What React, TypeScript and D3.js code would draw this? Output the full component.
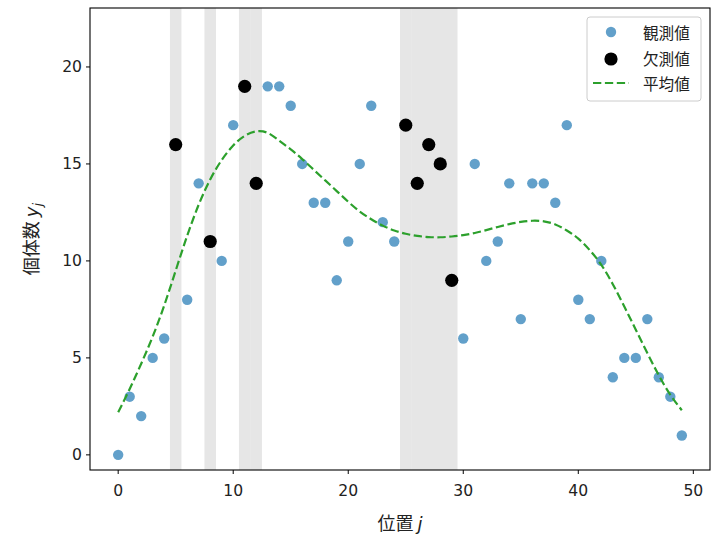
import React from "react";
import * as d3 from "d3";

// 位置 j = 0..49
const positions = d3.range(50);

// 観測された個体数 (欠測位置は null)
const observed: (number | null)[] = [
  0, 3, 2, 5, 6, null, 8, 14, null, 10,
  17, null, null, 19, 19, 18, 15, 13, 13, 9,
  11, 15, 18, 12, 11, null, null, null, null, null,
  6, 15, 10, 11, 14, 7, 14, 14, 13, 17,
  8, 7, 10, 4, 5, 5, 7, 4, 3, 1,
];

// 欠測位置の真値
const missingIdx = [5, 8, 11, 12, 25, 26, 27, 28, 29];
const missingVals = [16, 11, 19, 14, 17, 14, 16, 15, 9];

// 平均値
const meanVals = [
  2.2, 3.4, 4.7, 6.1, 7.7, 9.5, 11.3, 12.9, 14.2, 15.2,
  15.95, 16.45, 16.68, 16.6, 16.2, 15.75, 15.25, 14.7, 14.15, 13.6,
  13.05, 12.55, 12.15, 11.82, 11.57, 11.4, 11.29, 11.23, 11.22, 11.26,
  11.33, 11.44, 11.59, 11.75, 11.9, 12.01, 12.07, 12.04, 11.88, 11.57,
  11.15, 10.55, 9.8, 8.8, 7.65, 6.45, 5.25, 4.1, 3.1, 2.3,
];

const xTicks = [0, 10, 20, 30, 40, 50];
const yTicks = [0, 5, 10, 15, 20];

const W = 720;
const H = 539;
const left = 90;
const right = 710;
const top = 8;
const bottom = 470;

const tickFont = "'DejaVu Sans', sans-serif";
const jpFont = "'Noto Sans CJK JP', 'DejaVu Sans', sans-serif";

export default function App() {
  const x = d3.scaleLinear().domain([-2.45, 51.45]).range([left, right]);
  const y = d3.scaleLinear().domain([-0.78, 23.04]).range([bottom, top]);

  const meanLine = d3
    .line<number>()
    .x((_, i) => x(positions[i]))
    .y((d) => y(d))
    .curve(d3.curveNatural)(meanVals);

  const obsPoints = positions
    .map((p, i) => ({ p, v: observed[i] }))
    .filter((d) => d.v !== null) as { p: number; v: number }[];

  return (
    <svg
      width={W}
      height={H}
      style={{ position: "absolute", left: 0, top: 0, background: "#fff" }}
    >
      <rect x={0} y={0} width={W} height={H} fill="#fff" />

      {/* 欠測区間 */}
      {missingIdx.map((m) => (
        <rect
          key={"s" + m}
          x={x(m - 0.5)}
          y={top}
          width={x(m + 0.5) - x(m - 0.5)}
          height={bottom - top}
          fill="#808080"
          fillOpacity={0.2}
        />
      ))}

      {obsPoints.map((d) => (
        <circle
          key={"o" + d.p}
          cx={x(d.p)}
          cy={y(d.v)}
          r={5.2}
          fill="#1f77b4"
          fillOpacity={0.7}
        />
      ))}

      {missingIdx.map((m, i) => (
        <circle key={"m" + m} cx={x(m)} cy={y(missingVals[i])} r={6.6} fill="#000" />
      ))}

      <path
        d={meanLine ?? ""}
        fill="none"
        stroke="#2ca02c"
        strokeWidth={2.2}
        strokeDasharray="8.3,3.6"
      />

      {/* 軸 */}
      <rect
        x={left}
        y={top}
        width={right - left}
        height={bottom - top}
        fill="none"
        stroke="#000"
        strokeWidth={1.1}
      />

      {xTicks.map((t) => (
        <g key={"xt" + t} transform={`translate(${x(t)},${bottom})`}>
          <line y2={4} stroke="#000" strokeWidth={1} />
          <text
            y={21}
            textAnchor="middle"
            dominantBaseline="central"
            fontFamily={tickFont}
            fontSize={15.6}
            fill="#222"
          >
            {t}
          </text>
        </g>
      ))}

      {yTicks.map((t) => (
        <g key={"yt" + t} transform={`translate(${left},${y(t)})`}>
          <line x2={-4} stroke="#000" strokeWidth={1} />
          <text
            x={-8}
            textAnchor="end"
            dominantBaseline="central"
            fontFamily={tickFont}
            fontSize={15.6}
            fill="#222"
          >
            {t}
          </text>
        </g>
      ))}

      <text
        x={(left + right) / 2}
        y={530}
        textAnchor="middle"
        fontFamily={jpFont}
        fontSize={18}
        fill="#222"
      >
        位置 <tspan fontFamily={tickFont} fontStyle="italic">j</tspan>
      </text>

      <text
        transform={`translate(38,${(top + bottom) / 2}) rotate(-90)`}
        textAnchor="middle"
        fontFamily={jpFont}
        fontSize={18}
        fill="#222"
      >
        個体数 <tspan fontFamily={tickFont} fontStyle="italic">y</tspan>
        <tspan fontFamily={tickFont} fontStyle="italic" fontSize={13} dy={4}>
          j
        </tspan>
      </text>

      {/* 凡例 */}
      <g>
        <rect
          x={587}
          y={17}
          width={114}
          height={84}
          rx={3}
          fill="#fff"
          fillOpacity={0.8}
          stroke="#cccccc"
        />
        <circle cx={611} cy={32} r={5.2} fill="#1f77b4" fillOpacity={0.7} />
        <circle cx={611} cy={59} r={6.6} fill="#000" />
        <line
          x1={593}
          x2={629}
          y1={83}
          y2={83}
          stroke="#2ca02c"
          strokeWidth={2.2}
          strokeDasharray="8.3,3.6"
        />
        {["観測値", "欠測値", "平均値"].map((s, i) => (
          <text
            key={s}
            x={643}
            y={32 + i * 25.5}
            dominantBaseline="central"
            fontFamily={jpFont}
            fontSize={15.6}
            fill="#222"
          >
            {s}
          </text>
        ))}
      </g>
    </svg>
  );
}
